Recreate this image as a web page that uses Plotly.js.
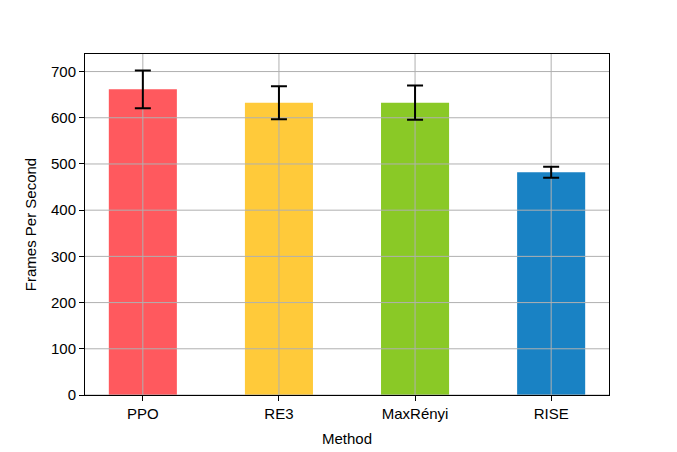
<!DOCTYPE html>
<html>
<head>
<meta charset="utf-8">
<script src="https://cdn.plot.ly/plotly-3.0.1.min.js"></script>
<style>
  body { margin: 0; background: #fff; }
  #chart { width: 677px; height: 452px; }
</style>
</head>
<body>
<div id="chart"></div>
<script>
// values
const methods = ["PPO", "RE3", "MaxRényi", "RISE"];
const fps = [661.5, 632.7, 632.7, 482.2];
const fpsErr = [41, 35.7, 37.2, 12];
const colors = ["#ff595e", "#ffca3a", "#8ac926", "#1982c4"];
const yTicks = [0, 100, 200, 300, 400, 500, 600, 700];

const idx = methods.map((m, i) => i);
const xRange = [-0.425, 3.425];
const yRange = [0, 738];

// matplotlib draws the grid over the bars, so the grid is its own trace
const gx = [], gy = [];
yTicks.forEach(t => { gx.push(xRange[0], xRange[1], null); gy.push(t, t, null); });
idx.forEach(i => { gx.push(i, i, null); gy.push(yRange[0], yRange[1], null); });

const bars = {
    type: "bar",
    x: idx,
    y: fps,
    width: 0.5,
    marker: { color: colors, line: { width: 0 } },
    hoverinfo: "skip"
};
const grid = {
    type: "scatter",
    mode: "lines",
    x: gx,
    y: gy,
    line: { color: "#b0b0b0", width: 1 },
    hoverinfo: "skip",
    cliponaxis: true
};
const errs = {
    type: "scatter",
    mode: "markers",
    x: idx,
    y: fps,
    marker: { size: 0.1, color: "rgba(0,0,0,0)" },
    error_y: { type: "data", array: fpsErr, visible: true, color: "#000", thickness: 2, width: 8 },
    hoverinfo: "skip"
};

const font = { family: "Liberation Sans, Arial, sans-serif", size: 15, color: "#000" };

const layout = {
    width: 677,
    height: 452,
    margin: { l: 85, r: 67.5, t: 54, b: 57 },
    paper_bgcolor: "#fff",
    plot_bgcolor: "#fff",
    showlegend: false,
    font: font,
    xaxis: {
        range: xRange,
        tickvals: idx,
        ticktext: methods,
        showgrid: false,
        zeroline: false,
        showline: true,
        mirror: true,
        linecolor: "#000",
        linewidth: 1,
        ticks: "outside",
        ticklen: 5,
        tickcolor: "#000",
        title: { text: "Method", font: font, standoff: 12 }
    },
    yaxis: {
        range: yRange,
        tickvals: yTicks,
        showgrid: false,
        zeroline: false,
        showline: true,
        mirror: true,
        linecolor: "#000",
        linewidth: 1,
        ticks: "outside",
        ticklen: 5,
        tickcolor: "#000",
        title: { text: "Frames Per Second", font: font, standoff: 10 }
    }
};

Plotly.newPlot("chart", [bars, grid, errs], layout, { displayModeBar: false, staticPlot: true });
</script>
</body>
</html>
